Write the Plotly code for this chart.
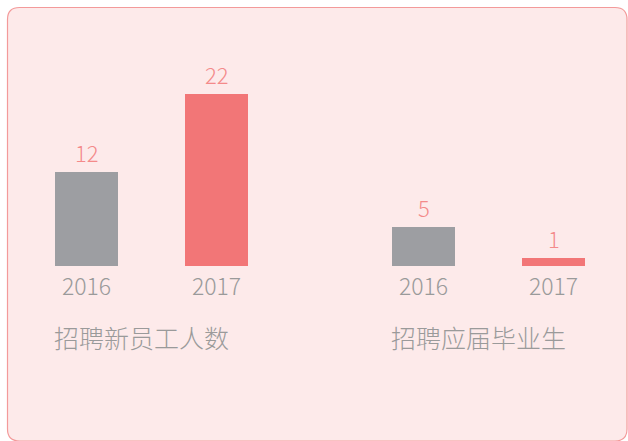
import plotly.graph_objects as go

years = ["2016", "2017"]
group_names = ["招聘新员工人数", "招聘应届毕业生"]
new_staff = [12, 22]
graduates = [5, 1]

W, H = 628, 441
FONT = "Noto Sans CJK SC"
GREY = "#9d9ea2"
PINK = "#f27677"
LABEL_PINK = "#f48a8a"
TEXT_GREY = "#9a9a9a"
BG = "#fdeaea"
BORDER = "#f39a9a"

M_T, M_B = 70, 175
PLOT_H = H - M_T - M_B

def px_x(p):
    return p / W

def px_y(p):
    return (H - M_B - p) / PLOT_H

fig = go.Figure()
groups = [new_staff, graduates]
for i, vals in enumerate(groups):
    xa = "x" if i == 0 else "x2"
    ya = "y" if i == 0 else "y2"
    fig.add_trace(go.Bar(
        x=years, y=vals, xaxis=xa, yaxis=ya,
        marker=dict(color=[GREY, PINK], line=dict(width=0)),
        width=0.485, showlegend=False, hoverinfo="skip",
    ))
    for j, v in enumerate(vals):
        fig.add_annotation(
            x=j, y=v, xref=xa, yref=ya, text=str(v), showarrow=False,
            yanchor="bottom", yshift=2,
            font=dict(family=FONT, size=22, color=LABEL_PINK, weight=300),
        )

# rounded background card
x0, y0, x1, y1, r = 7.5, 7.5, 627, 441, 12
path = (
    f"M {px_x(x0 + r)},{px_y(y0)} L {px_x(x1 - r)},{px_y(y0)} "
    f"Q {px_x(x1)},{px_y(y0)} {px_x(x1)},{px_y(y0 + r)} "
    f"L {px_x(x1)},{px_y(y1 - r)} Q {px_x(x1)},{px_y(y1)} {px_x(x1 - r)},{px_y(y1)} "
    f"L {px_x(x0 + r)},{px_y(y1)} Q {px_x(x0)},{px_y(y1)} {px_x(x0)},{px_y(y1 - r)} "
    f"L {px_x(x0)},{px_y(y0 + r)} Q {px_x(x0)},{px_y(y0)} {px_x(x0 + r)},{px_y(y0)} Z"
)
fig.add_shape(type="path", path=path, xref="paper", yref="paper",
              fillcolor=BG, line=dict(color=BORDER, width=1.2), layer="below")

for name, left in zip(group_names, [52, 389]):
    fig.add_annotation(
        x=px_x(left), y=px_y(337), xref="paper", yref="paper", text=name,
        showarrow=False, xanchor="left", yanchor="middle",
        font=dict(family=FONT, size=25, color=TEXT_GREY, weight=300),
    )

axis_common = dict(
    type="category", showgrid=False, zeroline=False, showline=False,
    ticks="", ticklabelstandoff=5,
    tickfont=dict(family=FONT, size=23, color=TEXT_GREY, weight=300),
    range=[-0.5, 1.5], fixedrange=True,
)
yaxis_common = dict(range=[0, 25], visible=False, fixedrange=True)

fig.update_layout(
    width=W, height=H,
    margin=dict(l=0, r=0, t=M_T, b=M_B, pad=0),
    paper_bgcolor="white", plot_bgcolor="rgba(0,0,0,0)",
    xaxis=dict(domain=[(86.5 - 65) / W, (216.5 + 65) / W], anchor="y", **axis_common),
    xaxis2=dict(domain=[(423.5 - 65) / W, (553.5 + 65) / W], anchor="y2", **axis_common),
    yaxis=dict(anchor="x", **yaxis_common),
    yaxis2=dict(anchor="x2", **yaxis_common),
    bargap=0,
    hovermode=False,
)

fig.write_html(
    "out.html",
    config={"displayModeBar": False, "staticPlot": True},
    post_script="document.documentElement.style.overflow='hidden';"
                "document.body.style.margin='0';document.body.style.overflow='hidden';",
)
